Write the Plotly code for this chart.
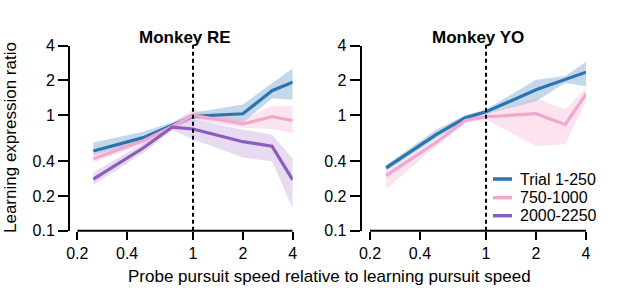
import plotly.graph_objects as go
import math

# ---------------- data ----------------
speeds = [0.25, 0.5, 0.75, 1, 2, 3, 4]
series_names = ["Trial 1-250", "750-1000", "2000-2250"]
panel_titles = ["Monkey RE", "Monkey YO"]
x_ticks = [0.2, 0.4, 1, 2, 4]
y_ticks = [0.1, 0.2, 0.4, 1, 2, 4]

# Monkey RE
re_blue_mean = [0.49, 0.64, 0.82, 0.98, 1.03, 1.63, 1.93]
re_blue_lo = [0.45, 0.59, 0.78, 0.93, 0.86, 1.40, 1.36]
re_blue_hi = [0.58, 0.72, 0.87, 1.05, 1.24, 1.90, 2.55]

re_pink_mean = [0.42, 0.60, 0.80, 1.00, 0.84, 0.97, 0.90]
re_pink_lo = [0.39, 0.56, 0.76, 0.90, 0.78, 0.76, 0.70]
re_pink_hi = [0.46, 0.64, 0.85, 1.12, 0.92, 1.20, 1.20]

re_purple_mean = [0.28, 0.52, 0.79, 0.76, 0.59, 0.54, 0.276]
re_purple_lo = [0.25, 0.47, 0.74, 0.62, 0.43, 0.40, 0.155]
re_purple_hi = [0.32, 0.57, 0.84, 0.92, 0.75, 0.68, 0.42]

# Monkey YO
yo_blue_mean = [0.35, 0.68, 0.95, 1.07, 1.66, 2.02, 2.36]
yo_blue_lo = [0.33, 0.63, 0.90, 1.02, 1.32, 1.90, 1.78]
yo_blue_hi = [0.37, 0.75, 1.00, 1.12, 2.03, 2.19, 2.90]

yo_pink_mean = [0.30, 0.58, 0.90, 0.97, 1.03, 0.83, 1.53]
yo_pink_lo = [0.23, 0.54, 0.85, 0.92, 0.54, 0.56, 1.30]
yo_pink_hi = [0.34, 0.62, 0.95, 1.02, 1.41, 1.12, 1.72]

# ---------------- style ----------------
line_colors = ["#2B74B2", "#F2A7CF", "#8B5CBE"]
band_colors = ["rgba(43,116,178,0.28)", "rgba(242,167,207,0.32)", "rgba(139,92,190,0.22)"]
FONT = "Liberation Sans, Arial, Helvetica, sans-serif"
W, H = 617, 308

fig = go.Figure()

panels = [
    ("x", "y", [(re_blue_mean, re_blue_lo, re_blue_hi),
                (re_pink_mean, re_pink_lo, re_pink_hi),
                (re_purple_mean, re_purple_lo, re_purple_hi)]),
    ("x2", "y2", [(yo_blue_mean, yo_blue_lo, yo_blue_hi),
                  (yo_pink_mean, yo_pink_lo, yo_pink_hi)]),
]

for xa, ya, groups in panels:
    for i, (m, lo, hi) in enumerate(groups):
        fig.add_trace(go.Scatter(
            x=speeds + speeds[::-1], y=hi + lo[::-1], xaxis=xa, yaxis=ya,
            fill="toself", fillcolor=band_colors[i], line=dict(width=0),
            mode="lines", hoverinfo="skip", showlegend=False))
    for i, (m, lo, hi) in enumerate(groups):
        fig.add_trace(go.Scatter(
            x=speeds, y=m, xaxis=xa, yaxis=ya, mode="lines",
            line=dict(color=line_colors[i], width=3.2), name=series_names[i],
            showlegend=False))

# axis geometry (pixels)
ytop, ybot = 45.7, 230.7
ydom = [1 - ybot / H, 1 - ytop / H]
left_axis = [(70.0, 292.7, 77.3), (361.7, 586.0, 370.0)]

common_x = dict(type="log", tickvals=x_ticks, ticktext=[str(t) for t in x_ticks],
                ticks="outside", ticklen=8, tickwidth=2, tickcolor="black",
                showgrid=False, zeroline=False, showline=False, automargin=False,
                tickfont=dict(family=FONT, size=16, color="black"))
common_y = dict(type="log", tickvals=y_ticks, ticktext=[str(t) for t in y_ticks],
                range=[-1, math.log10(4)], automargin=False,
                ticks="outside", ticklen=10, tickwidth=2, tickcolor="black",
                showgrid=False, zeroline=False, showline=True, linewidth=2, linecolor="black",
                tickfont=dict(family=FONT, size=16, color="black"))

layout_axes = {}
for k, (x0px, x1px, x02px) in enumerate(left_axis):
    per_px = math.log10(2) / ((x1px - x02px) / math.log2(4 / 0.2))
    lo = math.log10(4) - (x1px - x0px) * per_px
    xa = dict(common_x, domain=[x0px / W, x1px / W], range=[lo, math.log10(4)],
              anchor="y" if k == 0 else "y2")
    yaxis = dict(common_y, domain=ydom, anchor="x" if k == 0 else "x2")
    layout_axes["xaxis" if k == 0 else "xaxis2"] = xa
    layout_axes["yaxis" if k == 0 else "yaxis2"] = yaxis

shapes = []
for xr, yr in [("x", "y"), ("x2", "y2")]:
    # x axis line spanning only the tick range
    shapes.append(dict(type="line", xref=xr, yref=yr + " domain", x0=0.2, x1=4, y0=0, y1=0,
                       line=dict(color="black", width=2)))
    # dashed vertical reference at speed ratio 1
    shapes.append(dict(type="line", xref=xr, yref=yr + " domain", x0=1, x1=1, y0=0, y1=1.01,
                       line=dict(color="black", width=2, dash="4px,3px")))

annotations = []
for title, cx in zip(panel_titles, [185.0, 478.0]):
    annotations.append(dict(text="<b>" + title + "</b>", x=cx / W, y=1 - 38 / H,
                            xref="paper", yref="paper", showarrow=False,
                            xanchor="center", yanchor="middle",
                            font=dict(family=FONT, size=17, color="black")))
annotations.append(dict(text="Learning expression ratio", textangle=-90,
                        x=10 / W, y=1 - 138 / H, xref="paper", yref="paper",
                        showarrow=False, xanchor="center", yanchor="middle",
                        font=dict(family=FONT, size=17, color="black")))
annotations.append(dict(text="Probe pursuit speed relative to learning pursuit speed",
                        x=330 / W, y=1 - 276 / H, xref="paper", yref="paper",
                        showarrow=False, xanchor="center", yanchor="middle",
                        font=dict(family=FONT, size=17, color="black")))

# legend (drawn manually, compact symbols)
leg_y = [179.0, 197.7, 215.7]
for name, col, ly in zip(series_names, line_colors, leg_y):
    shapes.append(dict(type="line", xref="paper", yref="paper",
                       x0=493 / W, x1=512 / W, y0=1 - ly / H, y1=1 - ly / H,
                       line=dict(color=col, width=3.5)))
    annotations.append(dict(text=name, x=518 / W, y=1 - ly / H, xref="paper", yref="paper",
                            showarrow=False, xanchor="left", yanchor="middle",
                            font=dict(family=FONT, size=16, color="black")))

fig.update_layout(
    width=W, height=H, margin=dict(l=0, r=0, t=0, b=0),
    paper_bgcolor="white", plot_bgcolor="white",
    showlegend=False, shapes=shapes, annotations=annotations,
    font=dict(family=FONT, color="black"),
    **layout_axes)

fig.write_html("out.html", config={"displayModeBar": False},
               post_script="document.body.style.margin='0';document.body.style.padding='0';")
